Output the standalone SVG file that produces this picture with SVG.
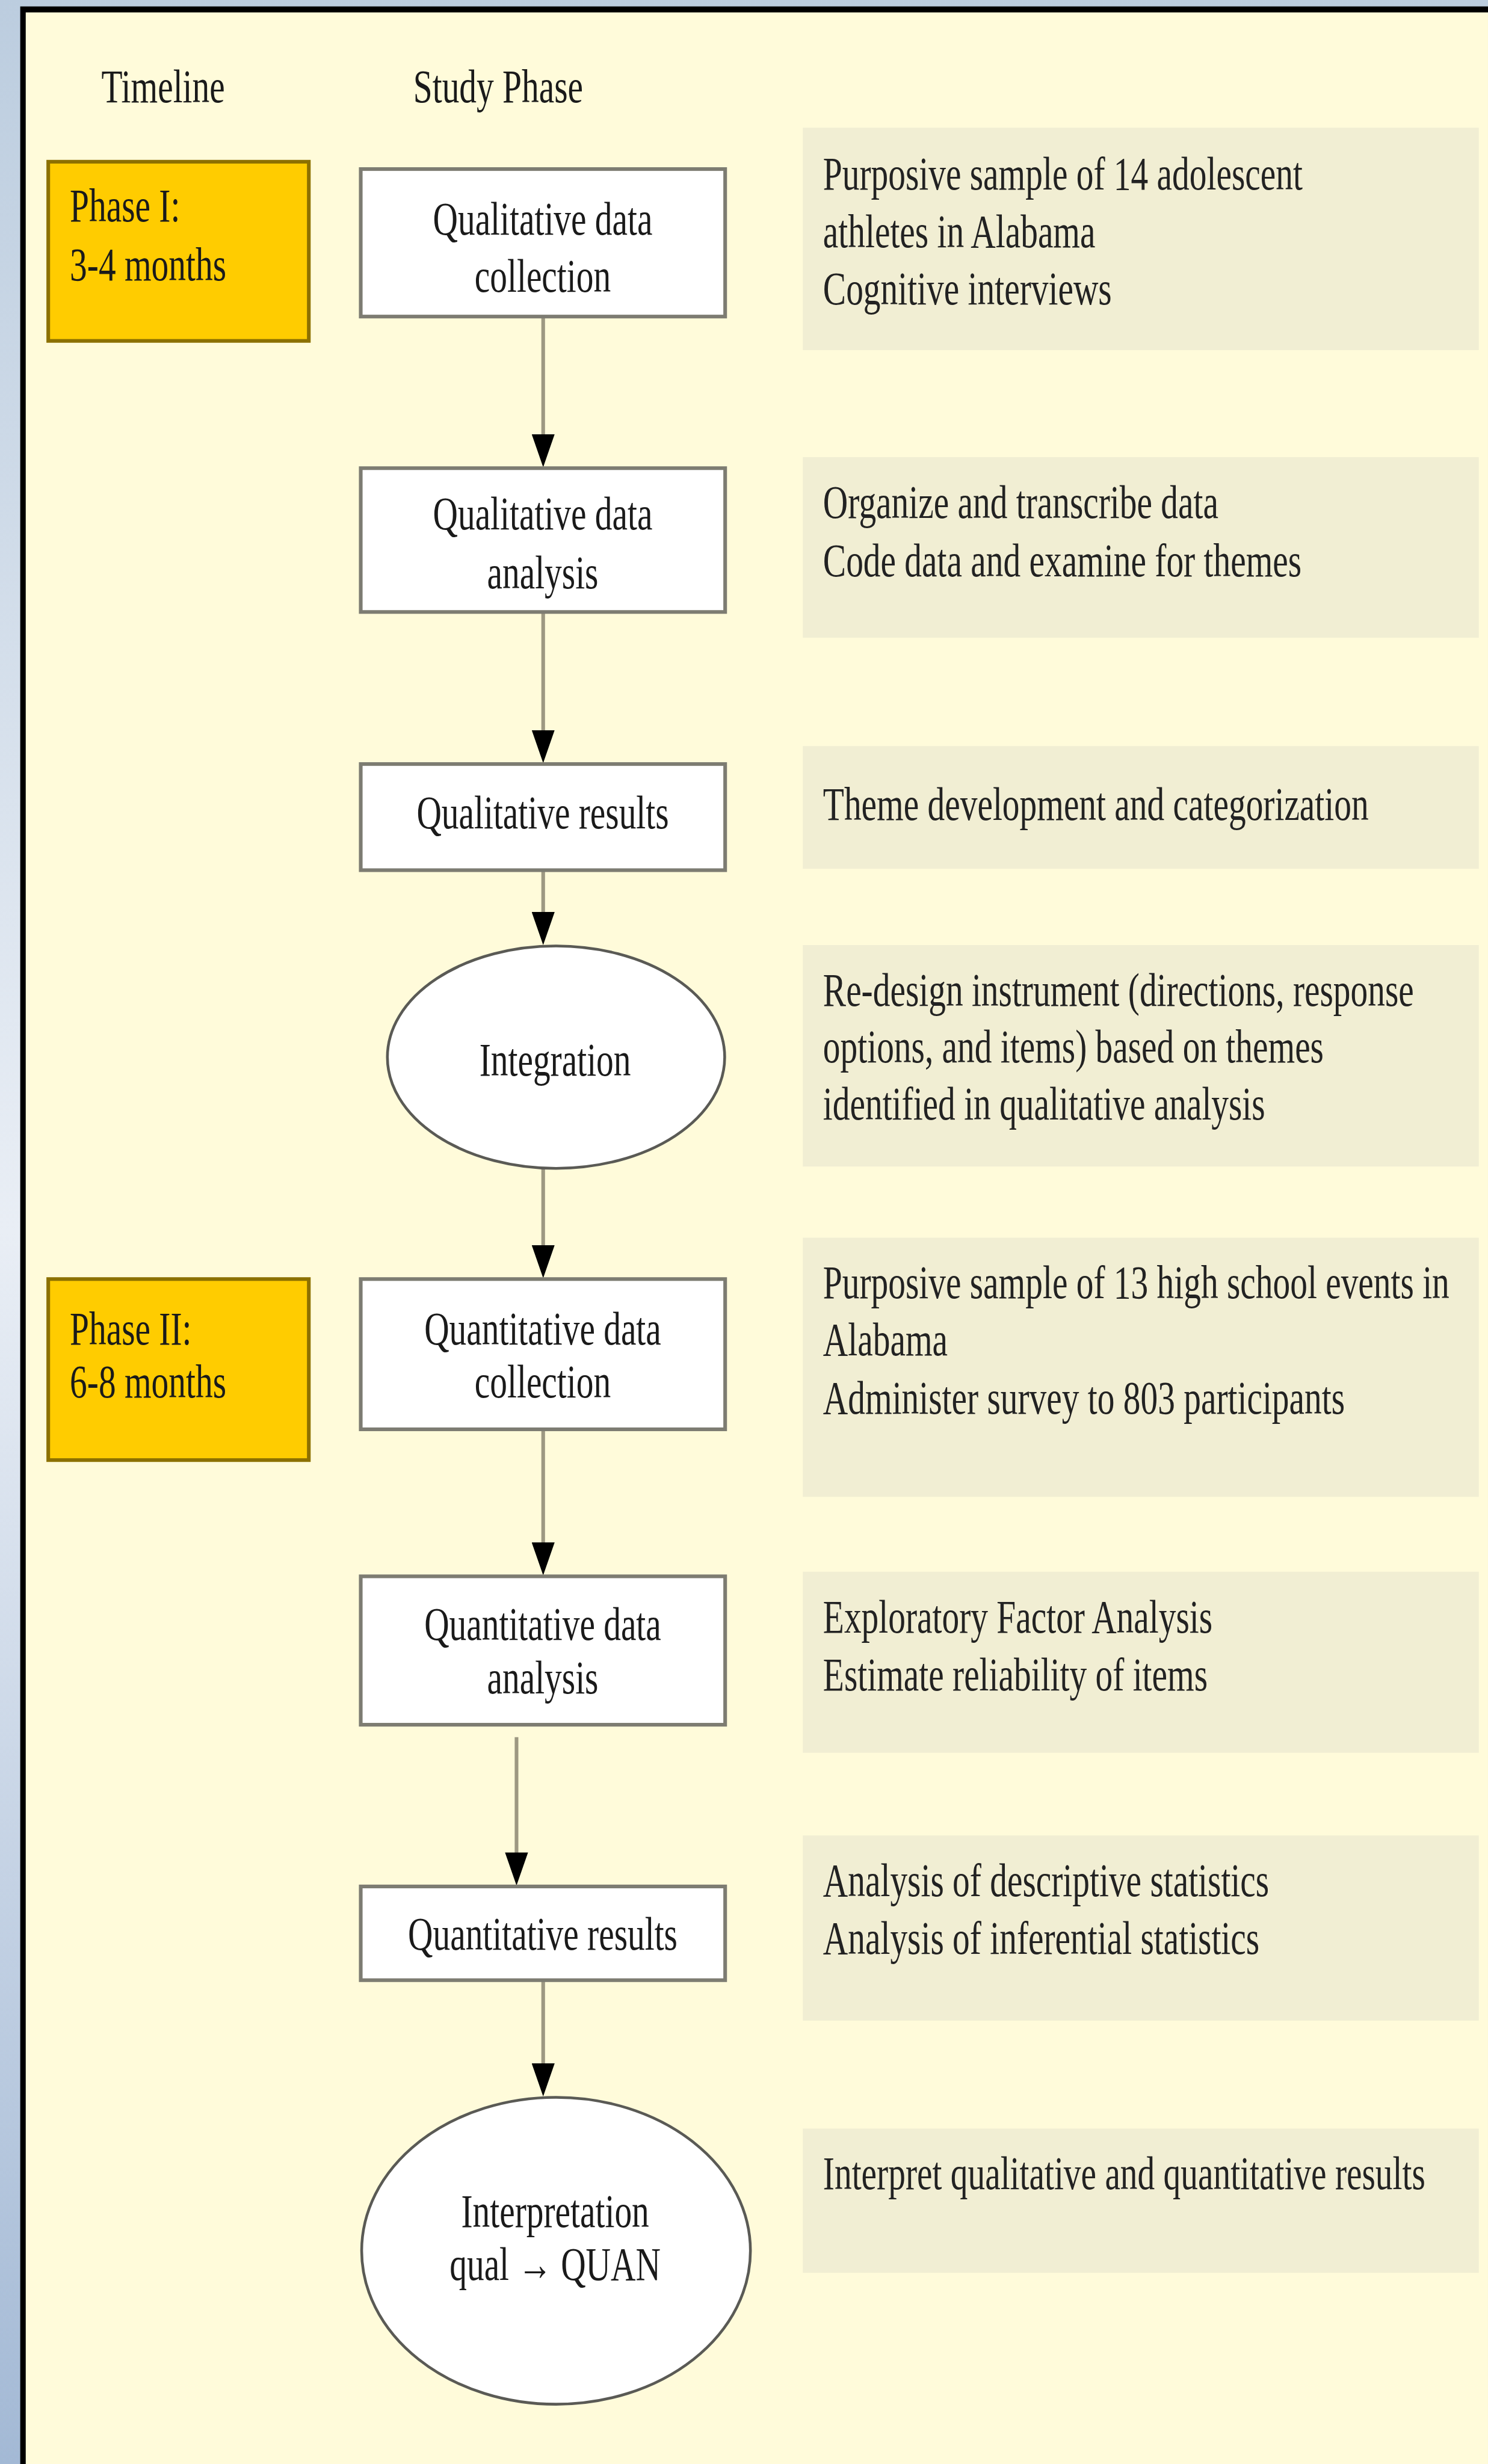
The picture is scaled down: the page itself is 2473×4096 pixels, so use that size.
<svg xmlns="http://www.w3.org/2000/svg" width="2473" height="4096" viewBox="0 0 2473 4096">
<defs>
<linearGradient id="blue" x1="0" y1="0" x2="0" y2="1">
<stop offset="0" stop-color="#bccddf"/>
<stop offset="0.5" stop-color="#e9eef5"/>
<stop offset="1" stop-color="#a3b9d5"/>
</linearGradient>
<marker id="ah" markerUnits="userSpaceOnUse" viewBox="0 0 72 50" markerWidth="72" markerHeight="50" refX="42" refY="25" orient="auto">
<path d="M0,0 L72,25 L0,50 Z" fill="#000"/>
</marker>
<style>
.t{font-family:"Liberation Serif","Times New Roman",serif;font-size:102px;fill:#1a1a1a}
.pt{font-family:"Liberation Serif","Times New Roman",serif;font-size:102px;fill:#222}
.arr{font-family:"Liberation Serif","Times New Roman",serif;font-weight:bold;font-size:102px}
.box{fill:#fff;stroke:#7d7c72;stroke-width:8}
.ell{fill:#fff;stroke:#5a5a55;stroke-width:6}
.phase{fill:#ffcc00;stroke:#8c7000;stroke-width:8}
.panel{fill:#f1eed3}
.conn{stroke:#9d9882;stroke-width:8;fill:none;marker-end:url(#ah)}
</style>
</defs>
<g transform="scale(0.76374)">
<rect x="0" y="0" width="3238" height="5364" fill="url(#blue)"/>
<rect x="44" y="14" width="3194" height="5350" fill="#000"/>
<rect x="56" y="27" width="3182" height="5337" fill="#fffbda"/>

<g id="headers">
<text class="t" text-anchor="middle" transform="translate(355 222) scale(0.737 1)">Timeline</text>
<text class="t" text-anchor="middle" transform="translate(1084 222) scale(0.737 1)">Study Phase</text>
</g>

<g id="phase1">
<rect class="phase" x="105" y="352" width="567" height="390"/>
<text class="t" transform="translate(152 482) scale(0.737 1)">Phase I:<tspan x="0" dy="128">3-4 months</tspan></text>
</g>
<g id="phase2">
<rect class="phase" x="105" y="2784" width="567" height="394"/>
<text class="t" transform="translate(152 2926) scale(0.737 1)">Phase II:<tspan x="0" dy="116">6-8 months</tspan></text>
</g>

<g id="connectors">
<line class="conn" x1="1182" y1="689" x2="1182" y2="987"/>
<line class="conn" x1="1182" y1="1332" x2="1182" y2="1631"/>
<line class="conn" x1="1182" y1="1894" x2="1182" y2="2027"/>
<line class="conn" x1="1182" y1="2544" x2="1182" y2="2752"/>
<line class="conn" x1="1182" y1="3111" x2="1182" y2="3399"/>
<line class="conn" x1="1124" y1="3781" x2="1124" y2="4074"/>
<line class="conn" x1="1182" y1="4310" x2="1182" y2="4533"/>
</g>

<g id="qual-collection">
<rect class="box" x="785" y="368" width="793" height="321"/>
<text class="t" text-anchor="middle" transform="translate(1181 510) scale(0.737 1)">Qualitative data<tspan x="0" dy="125">collection</tspan></text>
</g>
<g id="qual-analysis">
<rect class="box" x="785" y="1019" width="793" height="313"/>
<text class="t" text-anchor="middle" transform="translate(1181 1152) scale(0.737 1)">Qualitative data<tspan x="0" dy="128">analysis</tspan></text>
</g>
<g id="qual-results">
<rect class="box" x="785" y="1663" width="793" height="231"/>
<text class="t" text-anchor="middle" transform="translate(1181 1803) scale(0.737 1)">Qualitative results</text>
</g>
<g id="integration">
<ellipse class="ell" cx="1210" cy="2301" rx="367" ry="242"/>
<text class="t" text-anchor="middle" transform="translate(1208 2341) scale(0.737 1)">Integration</text>
</g>
<g id="quan-collection">
<rect class="box" x="785" y="2784" width="793" height="327"/>
<text class="t" text-anchor="middle" transform="translate(1181 2926) scale(0.737 1)">Quantitative data<tspan x="0" dy="116">collection</tspan></text>
</g>
<g id="quan-analysis">
<rect class="box" x="785" y="3431" width="793" height="323"/>
<text class="t" text-anchor="middle" transform="translate(1181 3569) scale(0.737 1)">Quantitative data<tspan x="0" dy="117">analysis</tspan></text>
</g>
<g id="quan-results">
<rect class="box" x="785" y="4106" width="793" height="204"/>
<text class="t" text-anchor="middle" transform="translate(1181 4244) scale(0.737 1)">Quantitative results</text>
</g>
<g id="interpretation">
<ellipse class="ell" cx="1210" cy="4899" rx="423" ry="334"/>
<text class="t" text-anchor="middle" transform="translate(1208 4847) scale(0.737 1)">Interpretation</text>
<text class="t" text-anchor="middle" transform="translate(1208 4963) scale(0.737 1)">qual <tspan class="arr">→</tspan> QUAN</text>
</g>

<g id="note1">
<rect class="panel" x="1747" y="278" width="1471" height="484"/>
<text class="pt" transform="translate(1791 412) scale(0.737 1)">Purposive sample of 14 adolescent<tspan x="0" dy="126">athletes in Alabama</tspan><tspan x="0" dy="124">Cognitive interviews</tspan></text>
</g>
<g id="note2">
<rect class="panel" x="1747" y="995" width="1471" height="393"/>
<text class="pt" transform="translate(1791 1128) scale(0.737 1)">Organize and transcribe data<tspan x="0" dy="127">Code data and examine for themes</tspan></text>
</g>
<g id="note3">
<rect class="panel" x="1747" y="1624" width="1471" height="267"/>
<text class="pt" transform="translate(1791 1785) scale(0.737 1)">Theme development and categorization</text>
</g>
<g id="note4">
<rect class="panel" x="1747" y="2057" width="1471" height="482"/>
<text class="pt" transform="translate(1791 2189) scale(0.737 1)">Re-design instrument (directions, response<tspan x="0" dy="123">options, and items) based on themes</tspan><tspan x="0" dy="125">identified in qualitative analysis</tspan></text>
</g>
<g id="note5">
<rect class="panel" x="1747" y="2694" width="1471" height="564"/>
<text class="pt" transform="translate(1791 2825) scale(0.737 1)">Purposive sample of 13 high school events in<tspan x="0" dy="125">Alabama</tspan><tspan x="0" dy="127">Administer survey to 803 participants</tspan></text>
</g>
<g id="note6">
<rect class="panel" x="1747" y="3421" width="1471" height="394"/>
<text class="pt" transform="translate(1791 3553) scale(0.737 1)">Exploratory Factor Analysis<tspan x="0" dy="126">Estimate reliability of items</tspan></text>
</g>
<g id="note7">
<rect class="panel" x="1747" y="3995" width="1471" height="403"/>
<text class="pt" transform="translate(1791 4127) scale(0.737 1)">Analysis of descriptive statistics<tspan x="0" dy="126">Analysis of inferential statistics</tspan></text>
</g>
<g id="note8">
<rect class="panel" x="1747" y="4633" width="1471" height="314"/>
<text class="pt" transform="translate(1791 4765) scale(0.737 1)">Interpret qualitative and quantitative results</text>
</g>
</g>
</svg>
